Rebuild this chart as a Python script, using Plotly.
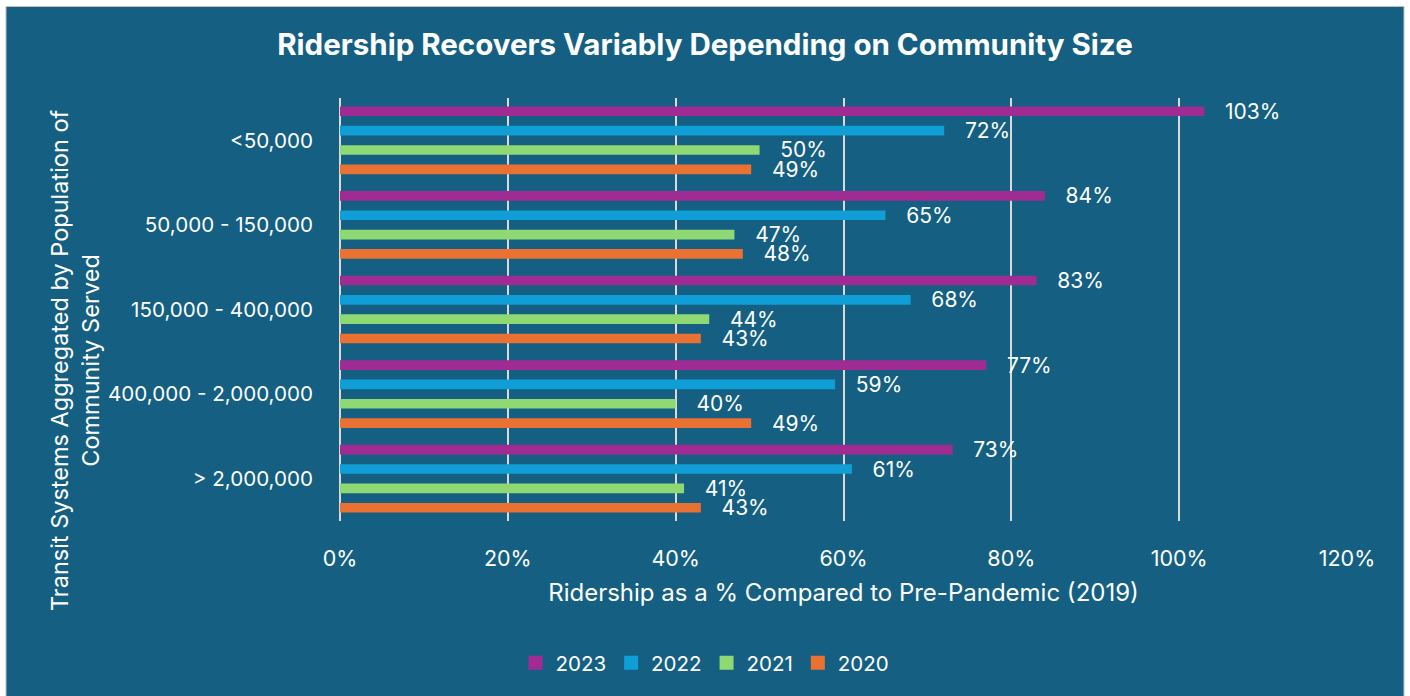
import plotly.graph_objects as go

categories = ["<50,000", "50,000 - 150,000", "150,000 - 400,000", "400,000 - 2,000,000", "> 2,000,000"]
years = ["2023", "2022", "2021", "2020"]
v2023 = [103, 84, 83, 77, 73]
v2022 = [72, 65, 68, 59, 61]
v2021 = [50, 47, 44, 40, 41]
v2020 = [49, 48, 43, 49, 43]
series = [v2023, v2022, v2021, v2020]
colors = ["#A02B93", "#0F9ED5", "#8ED973", "#E97132"]
x_ticks = [0, 20, 40, 60, 80, 100, 120]

FONT = "Inter"
BG = "#156082"
W, H = 1410, 696
L, R, T, B = 340, 63, 98, 175
pw, ph = W - L - R, H - T - B

fig = go.Figure()
for name, vals, col in zip(years, series, colors):
    fig.add_trace(go.Bar(
        y=categories, x=vals, name=name, orientation="h", showlegend=False,
        marker=dict(color=col, line=dict(width=0)),
        text=[f"\u00a0\u00a0\u00a0{v}%" for v in vals], texttemplate="%{text}",
        textposition="outside", constraintext="none", cliponaxis=False,
        textfont=dict(family=FONT, size=21, color="white"),
    ))
# legend entries with larger square swatches
for name, col in zip(years, colors):
    fig.add_trace(go.Scatter(
        x=[None], y=[None], name=name, mode="markers",
        marker=dict(symbol="square", size=14, color=col, line=dict(width=0)),
        hoverinfo="skip",
    ))

def px_x(p):
    return (p - L) / pw

def px_y(p):
    return (H - B - p) / ph

fig.add_shape(type="rect", xref="paper", yref="paper", layer="below",
              x0=px_x(6), x1=px_x(1404), y0=px_y(700), y1=px_y(6.5),
              fillcolor=BG, line=dict(color="#BFBFBF", width=1))

fig.add_annotation(text="Transit Systems Aggregated by Population of<br>Community Served",
                   xref="paper", yref="paper", x=px_x(75), y=px_y(360),
                   textangle=-90, showarrow=False, xanchor="center", yanchor="middle",
                   font=dict(family=FONT, size=23.5, color="white"))

fig.update_layout(
    width=W, height=H,
    margin=dict(l=L, r=R, t=T, b=B),
    paper_bgcolor="white", plot_bgcolor="rgba(0,0,0,0)",
    barmode="group", bargap=0.085, bargroupgap=0.5,
    title=dict(text="<b>Ridership Recovers Variably Depending on Community Size</b>",
               x=0.5, xanchor="center", y=1 - 45 / H, yanchor="middle",
               font=dict(family=FONT, size=29.5, color="white")),
    font=dict(family=FONT, size=21, color="white"),
    xaxis=dict(range=[0, 120], tickvals=x_ticks, ticktext=[f"{t}%" for t in x_ticks],
               showgrid=True, gridcolor="#D9D9D9", gridwidth=1.5,
               zeroline=True, zerolinecolor="#D9D9D9", zerolinewidth=1.5,
               showline=False, ticks="", ticklabelstandoff=22,
               tickfont=dict(family=FONT, size=21.5, color="white"),
               title=dict(text="Ridership as a % Compared to Pre-Pandemic (2019)",
                          font=dict(family=FONT, size=24, color="white"), standoff=14)),
    yaxis=dict(autorange="reversed", showgrid=False, zeroline=False, showline=False,
               ticks="", ticklabelstandoff=26,
               tickfont=dict(family=FONT, size=20.6, color="white")),
    legend=dict(orientation="h", xref="container", yref="container",
                x=0.5, xanchor="center", y=1 - 663 / H, yanchor="middle",
                font=dict(family=FONT, size=20.5, color="white"),
                itemwidth=30, traceorder="normal", bgcolor="rgba(0,0,0,0)"),
)

fig.write_html("out.html")
